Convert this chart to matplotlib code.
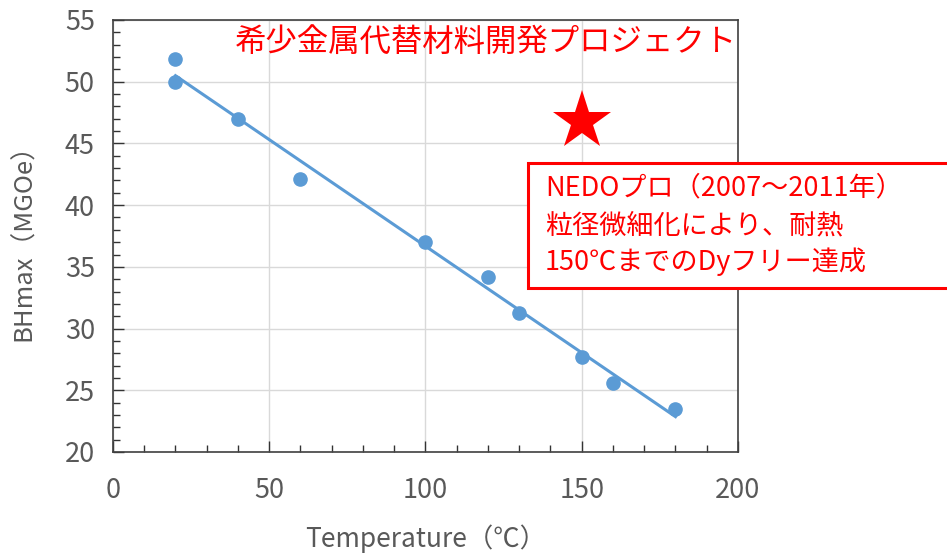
import numpy as np
import matplotlib.pyplot as plt
from matplotlib.patches import Rectangle
from matplotlib.ticker import MultipleLocator

plt.rcParams['font.family'] = ['Noto Sans CJK JP', 'DejaVu Sans']

temp = [20, 20, 40, 60, 100, 120, 130, 150, 160, 180]
bhmax = [51.8, 50.0, 47.0, 42.1, 37.0, 34.2, 31.3, 27.7, 25.6, 23.5]

# NEDO project target
star_temp = [150]
star_bh = [46.8]

title_txt = '希少金属代替材料開発プロジェクト'
box_lines = ['NEDOプロ（2007～2011年）', '粒径微細化により、耐熱', '150℃までのDyフリー達成']

BLUE = '#5B9BD5'
RED = '#FF0000'
GRAY = '#595959'

fig = plt.figure(figsize=(9.47, 5.55), dpi=100)
ax = fig.add_axes([0.1193, 0.1856, 0.6600, 0.7784])

ax.plot(temp, bhmax, 'o', color=BLUE, ms=9.5, zorder=3)

# linear trendline
coef = np.polyfit(temp, bhmax, 1)
xfit = np.array([min(temp), max(temp)])
ax.plot(xfit, np.polyval(coef, xfit), color=BLUE, lw=2.2, zorder=2)

ax.plot(star_temp, star_bh, '*', color=RED, ms=44, mew=0, zorder=4)

ax.set_xlim(0, 200)
ax.set_ylim(20, 55)
ax.xaxis.set_major_locator(MultipleLocator(50))
ax.xaxis.set_minor_locator(MultipleLocator(10))
ax.yaxis.set_major_locator(MultipleLocator(5))
ax.yaxis.set_minor_locator(MultipleLocator(1))
ax.grid(True, which='major', color='#D9D9D9', lw=1.0)
ax.set_axisbelow(True)

ax.tick_params(which='both', direction='in', colors='#333333', width=1.0)
ax.tick_params(which='major', length=8)
ax.tick_params(which='minor', length=5)
ax.tick_params(axis='x', which='major', pad=18, labelsize=19.5, labelcolor=GRAY)
ax.tick_params(axis='y', which='major', pad=13, labelsize=19.5, labelcolor=GRAY)
for s in ax.spines.values():
    s.set_color('#404040')
    s.set_linewidth(1.2)

ax.set_xlabel('Temperature（℃）', fontsize=19, color=GRAY, labelpad=15)
ax.set_ylabel('BHmax（MGOe）', fontsize=18.5, color=GRAY, labelpad=20)

ax.text(0.596, 0.95, title_txt, transform=ax.transAxes, fontsize=22.6,
        color=RED, ha='center', va='center')

# annotation box (runs off the right edge)
fig.patches.append(Rectangle((0.5575, 0.481), 0.46, 0.225, transform=fig.transFigure,
                             fill=True, facecolor='white', edgecolor=RED, lw=2.2,
                             zorder=5))
ys = [0.661, 0.593, 0.528]
for line, y in zip(box_lines, ys):
    fig.text(0.5755, y, line, fontsize=19.5, color=RED, ha='left', va='center', zorder=6)

fig.savefig('out.png', dpi=100)
